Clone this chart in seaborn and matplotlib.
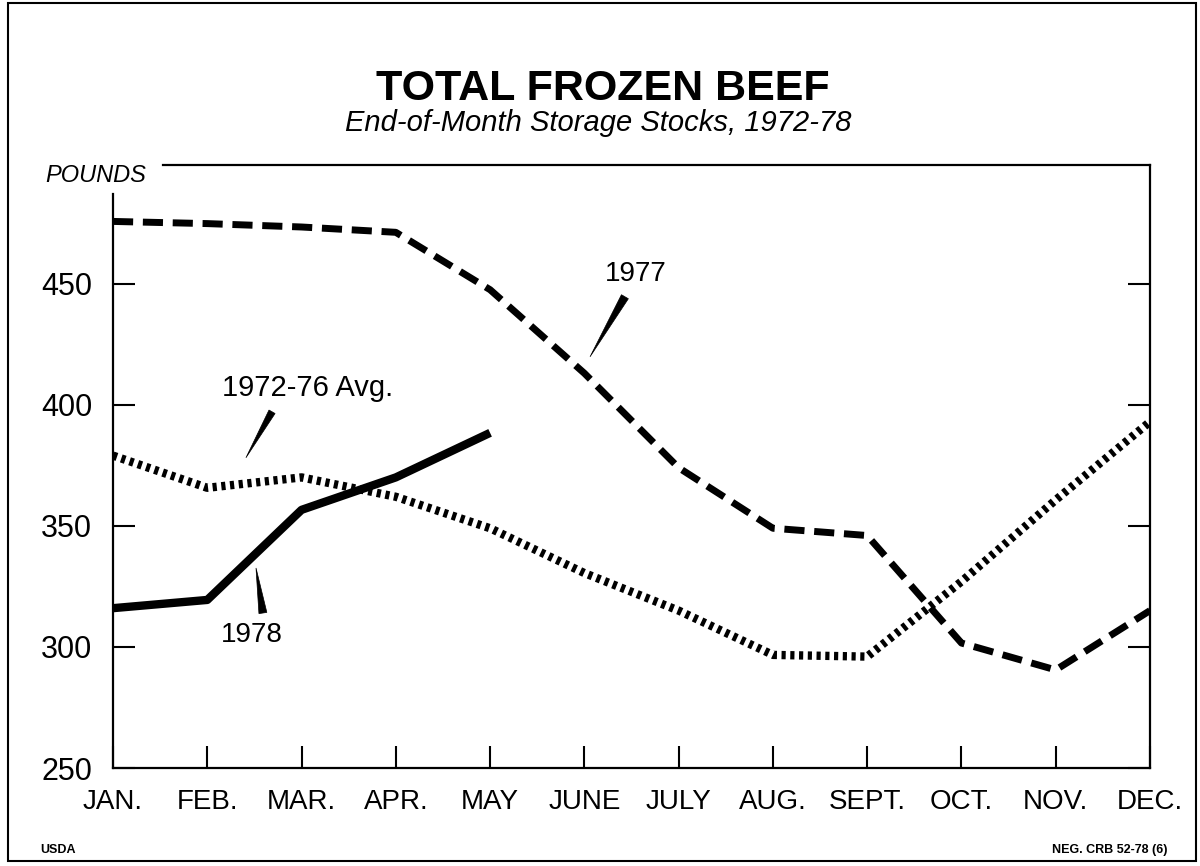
import numpy as np
import pandas as pd
import seaborn as sns
import matplotlib.pyplot as plt
from matplotlib.patches import Polygon, Rectangle

# =================================================================
# 1. Data (million pounds)
# =================================================================
months = ["JAN.", "FEB.", "MAR.", "APR.", "MAY", "JUNE", "JULY", "AUG.",
          "SEPT.", "OCT.", "NOV.", "DEC."]
stocks_1977 = [475.7, 474.8, 473.4, 471.2, 447.5, 413, 374, 349, 346, 301.6, 290.5, 315]
stocks_avg = [379, 365.7, 370, 362, 349, 330.5, 315, 296.7, 296, 327, 360.7, 393]
stocks_1978 = [316, 319.4, 356.6, 370, 388.4]
y_ticks = [250, 300, 350, 400, 450]

df77 = pd.DataFrame({"m": np.arange(len(stocks_1977)), "v": stocks_1977})
dfavg = pd.DataFrame({"m": np.arange(len(stocks_avg)), "v": stocks_avg})
df78 = pd.DataFrame({"m": np.arange(len(stocks_1978)), "v": stocks_1978})

# =================================================================
# 2. Figure setup
# =================================================================
sns.set_theme(style="white")
plt.rcParams["font.family"] = ["Liberation Sans", "DejaVu Sans"]
plt.rcParams["text.color"] = "black"

fig = plt.figure(figsize=(12, 8.66), dpi=100)
ax = fig.add_axes([113 / 1200, 1 - 768 / 866, (1150 - 113) / 1200, (768 - 165) / 866])

# =================================================================
# 3. Lines
# =================================================================
sns.lineplot(data=df77, x="m", y="v", ax=ax, color="black", linewidth=5,
             linestyle=(0, (2.9, 1.4)), dash_capstyle="butt")
sns.lineplot(data=dfavg, x="m", y="v", ax=ax, color="black", linewidth=6,
             linestyle=(0, (0.5, 0.55)), dash_capstyle="butt")
sns.lineplot(data=df78, x="m", y="v", ax=ax, color="black", linewidth=6,
             solid_capstyle="butt", solid_joinstyle="round")

ax.set_xlim(0, len(months) - 1)
ax.set_ylim(250, 499)
ax.set_xticks(np.arange(len(months)))
ax.set_xticklabels(months)
ax.set_yticks(y_ticks)
ax.set_yticklabels([str(t) for t in y_ticks])
ax.set_xlabel("")
ax.set_ylabel("")

ax.tick_params(axis="x", direction="in", length=16, width=1.5, pad=15,
               labelsize=20, colors="black", bottom=True, top=False)
ax.tick_params(axis="y", direction="in", length=16, width=1.5, pad=15,
               labelsize=22, colors="black", left=True, right=True)

for s in ax.spines.values():
    s.set_color("black")
    s.set_linewidth(1.6)
ax.spines["left"].set_bounds(250, 487)
ax.spines["top"].set_bounds(0.53, len(months) - 1)

# =================================================================
# 4. Callout labels with wedge pointers
# =================================================================
def pointer(ax, base, tip, width_px):
    b = ax.transData.transform(base)
    t = ax.transData.transform(tip)
    d = t - b
    n = np.array([-d[1], d[0]]) / np.hypot(*d) * width_px / 2
    poly = Polygon([b + n, b - n, t], closed=True, transform=None,
                   facecolor="black", edgecolor="black", linewidth=0.5)
    ax.add_artist(poly)

ax.text(5.54, 454.1, "1977", fontsize=20, ha="center", va="center")
pointer(ax, (5.43, 444.6), (5.06, 419.8), 8)

ax.text(2.06, 407, "1972-76 Avg.", fontsize=21, ha="center", va="center")
pointer(ax, (1.687, 397.1), (1.41, 378.1), 7)

ax.text(1.474, 305, "1978", fontsize=20, ha="center", va="center")
pointer(ax, (1.59, 314), (1.517, 332.6), 8)

# =================================================================
# 5. Titles and notes
# =================================================================
fig.text(603 / 1200, 1 - 89 / 866, "TOTAL FROZEN BEEF", fontsize=31,
         fontweight="bold", ha="center", va="center")
fig.text(598 / 1200, 1 - 123 / 866, "End-of-Month Storage Stocks, 1972-78",
         fontsize=21, fontstyle="italic", ha="center", va="center")
fig.text(45 / 1200, 1 - 176 / 866, "POUNDS", fontsize=17, fontstyle="italic",
         ha="left", va="center")
fig.text(40 / 1200, 1 - 850 / 866, "USDA", fontsize=9, fontweight="bold",
         ha="left", va="center")
fig.text(1167 / 1200, 1 - 850 / 866, "NEG. CRB 52-78 (6)", fontsize=9,
         fontweight="bold", ha="right", va="center")

fig.patches.append(Rectangle((0.007, 0.006), 0.99, 0.99, transform=fig.transFigure,
                             fill=False, edgecolor="black", linewidth=1.5))

fig.savefig("out.png", dpi=100, facecolor="white")
